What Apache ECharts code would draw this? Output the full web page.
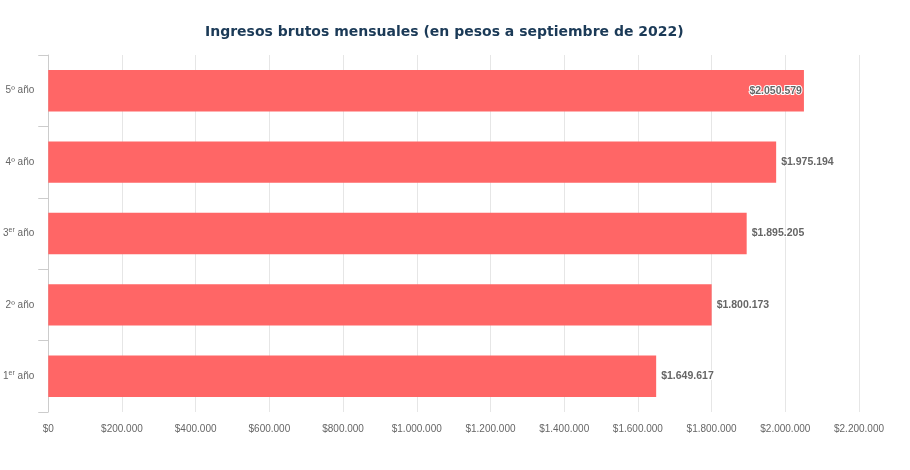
<!DOCTYPE html>
<html><head><meta charset="utf-8">
<script src="https://cdn.jsdelivr.net/npm/echarts@6/dist/echarts.min.js"></script>
<style>html,body{margin:0;padding:0;background:#fff}#c{width:910px;height:470px}</style>
</head><body><div id="c"></div>
<script>
var categories = ['1er', '2o', '3er', '4o', '5o'];
var values = [1649617, 1800173, 1895205, 1975194, 2050579];
var xTicks = [0, 200000, 400000, 600000, 800000, 1000000, 1200000, 1400000, 1600000, 1800000, 2000000, 2200000];

function fmt(v) {
  return '$' + String(Math.round(v)).replace(/\B(?=(\d{3})+(?!\d))/g, '.');
}
function catLabel(c) {
  var n = c.charAt(0), suf = c.slice(1);
  if (suf === 'er') return n + '{sup|er} año';
  return n + 'º año';
}

var chart = echarts.init(document.getElementById('c'));
chart.setOption({
  animation: false,
  title: {
    text: 'Ingresos brutos mensuales (en pesos a septiembre de 2022)',
    left: 200, top: 20,
    textStyle: { fontFamily: 'DejaVu Sans', fontWeight: 'bold', fontSize: 14, color: '#1b3a57' }
  },
  grid: { left: 48, right: 51, top: 55, bottom: 58, containLabel: false },
  xAxis: {
    type: 'value', min: 0, max: xTicks[xTicks.length - 1], interval: 200000,
    axisLine: { show: false }, axisTick: { show: false },
    splitLine: { lineStyle: { color: '#e6e6e6' } },
    axisLabel: { formatter: fmt, color: '#666', fontSize: 10, fontFamily: 'Liberation Sans', margin: 12 }
  },
  yAxis: {
    type: 'category', data: categories,
    axisLine: { show: true, lineStyle: { color: '#ccc' } },
    axisTick: { show: true, length: 10, lineStyle: { color: '#ccc' } },
    axisLabel: {
      formatter: catLabel, color: '#666', fontSize: 10, fontFamily: 'Liberation Sans', margin: 14,
      rich: { sup: { fontSize: 7, color: '#666', verticalAlign: 'top', padding: [0, 0, 7, 0], fontFamily: 'Liberation Sans' } }
    }
  },
  series: [{
    type: 'bar', barCategoryGap: '42%',
    data: values.map(function (v, i) {
      var d = { value: v };
      if (i === values.length - 1) d.label = { position: 'insideRight', distance: 2 };
      return d;
    }),
    itemStyle: { color: '#ff6666' },
    label: {
      show: true, position: 'right', distance: 5,
      formatter: function (p) { return fmt(p.value); },
      color: '#666', fontWeight: 'bold', fontSize: 10.5, fontFamily: 'Liberation Sans',
      textBorderColor: '#fff', textBorderWidth: 2
    }
  }]
});
</script></body></html>
